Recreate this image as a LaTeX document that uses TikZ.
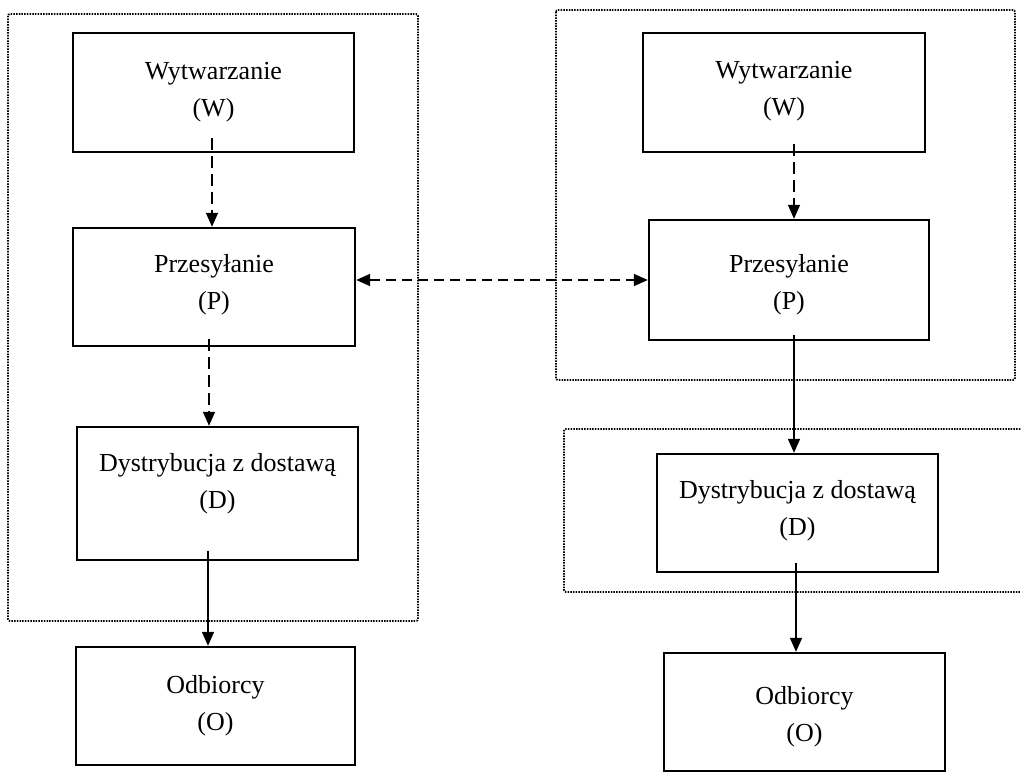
\documentclass[tikz,border=0pt]{standalone}
\usepackage{fontspec}
\setmainfont{Liberation Serif}
\usetikzlibrary{arrows.meta}

\tikzset{
  stage/.style={draw, line width=2.4pt, minimum width=281pt, minimum height=118pt,
                inner sep=0pt},
  caption/.style={align=center, font=\fontsize{26}{37}\selectfont},
  frame/.style={line width=1.8pt, dash pattern=on 1.5pt off 1.2pt, rounded corners=2pt},
  flow/.style={line width=1.7pt, -{Triangle[length=14pt,width=12pt]}},
  weak/.style={flow, dash pattern=on 12pt off 6pt},
  link/.style={line width=1.7pt, {Triangle[length=14pt,width=12pt]}-{Triangle[length=14pt,width=12pt]},
               dash pattern=on 10pt off 6pt}
}

\begin{document}
\begin{tikzpicture}[x=1pt, y=-1pt]
\useasboundingbox (0,0) rectangle (1021,773);

% grouping frames
\draw[frame] (8,14) rectangle (418,621);
\draw[frame] (556,10) rectangle (1015,380);
\draw[frame] (1023,429) -- (564,429) -- (564,592) -- (1023,592);

% left chain
\node[stage, minimum width=281pt, minimum height=119pt,
      label={[caption, yshift=0pt]center:{Wytwarzanie\\(W)}}] (W1) at (213.5,92.5) {};
\node[stage, minimum width=282pt, minimum height=118pt,
      label={[caption, yshift=2pt]center:{Przesyłanie\\(P)}}] (P1) at (214,287) {};
\node[stage, minimum width=281pt, minimum height=133pt,
      label={[caption, yshift=10pt]center:{Dystrybucja z dostawą\\(D)}}] (D1) at (217.5,493.5) {};
\node[stage, minimum width=279pt, minimum height=118pt,
      label={[caption, yshift=0pt]center:{Odbiorcy\\(O)}}] (O1) at (215.5,706) {};

% right chain
\node[stage, minimum width=282pt, minimum height=119pt,
      label={[caption, yshift=1pt]center:{Wytwarzanie\\(W)}}] (W2) at (784,92.5) {};
\node[stage, minimum width=280pt, minimum height=120pt,
      label={[caption, yshift=-5pt]center:{Przesyłanie\\(P)}}] (P2) at (789,280) {};
\node[stage, minimum width=281pt, minimum height=118pt,
      label={[caption, yshift=2pt]center:{Dystrybucja z dostawą\\(D)}}] (D2) at (797.5,513) {};
\node[stage, minimum width=281pt, minimum height=118pt,
      label={[caption, yshift=-5pt]center:{Odbiorcy\\(O)}}] (O2) at (804.5,712) {};

% left connectors
\draw[weak, shorten <=-15pt] ([xshift=-1.5pt]W1.south) -- ([xshift=-2pt]P1.north);
\draw[weak, shorten <=-8pt] ([xshift=-5pt]P1.south) -- ([xshift=-8.5pt]D1.north);
\draw[flow, shorten <=-10pt] ([xshift=-9.5pt]D1.south) -- ([xshift=-7.5pt]O1.north);

% right connectors
\draw[weak, shorten <=-9pt] ([xshift=10pt]W2.south) -- ([xshift=5pt]P2.north);
\draw[flow, shorten <=-6pt] ([xshift=5pt]P2.south) -- ([xshift=-3.5pt]D2.north);
\draw[flow, shorten <=-10pt] ([xshift=-1.5pt]D2.south) -- ([xshift=-8.5pt]O2.north);

% exchange between the two transmission stages
\draw[link] (P1.east |- P2.west) -- (P2.west);
\end{tikzpicture}
\end{document}
